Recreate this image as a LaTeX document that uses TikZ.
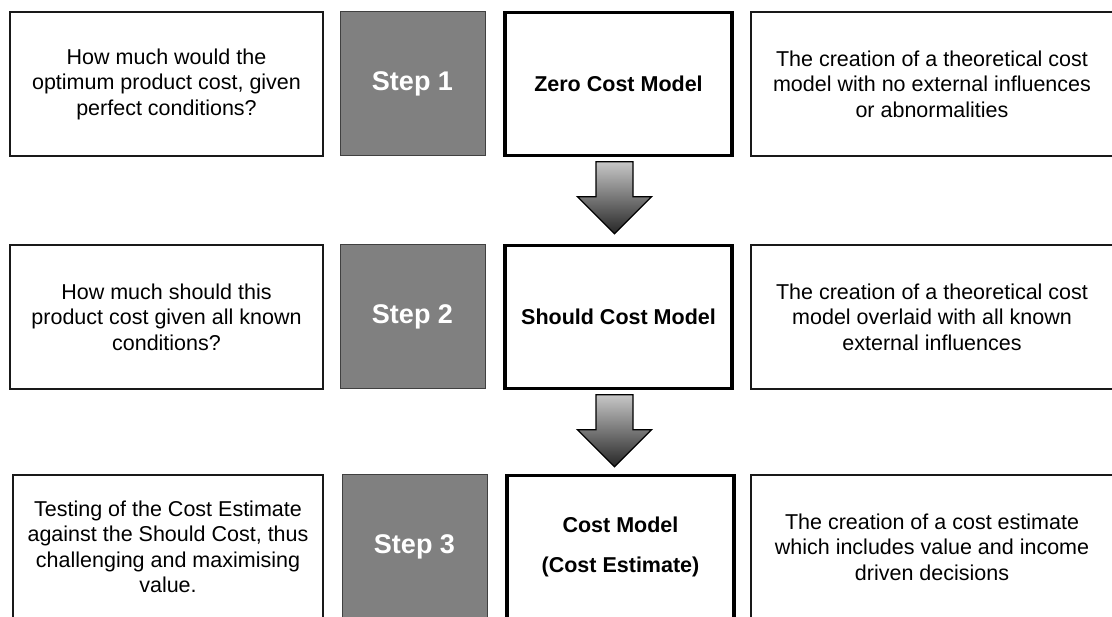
\documentclass[tikz,border=0pt]{standalone}
\usepackage{fontspec}
\setmainfont{Liberation Sans}
\usetikzlibrary{calc}
\begin{document}
\begin{tikzpicture}[x=1pt,y=-1pt,
  txt/.style={draw=black!90, line width=1.2pt, fill=white, align=center,
    font=\fontsize{21.5}{25.5}\selectfont, inner sep=0pt},
  stepbox/.style={draw=black!75, line width=1pt, fill=black!50, text=white,
    font=\fontsize{27}{32}\selectfont\bfseries, inner sep=0pt,
    minimum width=145pt, minimum height=144pt},
  model/.style={draw=black, line width=3.5pt, fill=white, align=center,
    font=\fontsize{21.5}{26}\selectfont\bfseries, inner sep=0pt,
    minimum width=227pt, minimum height=143pt},
  leftbox/.style={txt, minimum width=313pt, minimum height=144pt},
  rightbox/.style={txt, minimum width=362pt, minimum height=144pt},
  blockarrow/.style={draw=black, line width=1.3pt, line join=miter,
    top color=black!22, bottom color=black!85}]

\useasboundingbox (0,0) rectangle (1112,617);

% Row 1
\node[leftbox] (l1) at (166.5,84) {How much would the\\optimum product cost, given\\perfect conditions?};
\node[stepbox] (s1) at (412.5,84) {Step 1};
\node[model] (c1) at (618.5,84) {Zero Cost Model};
\node[rightbox] (r1) at (932,84) {The creation of a theoretical cost\\model with no external influences\\or abnormalities};

% Row 2
\node[leftbox] (l2) at (166.5,317) {How much should this\\product cost given all known\\conditions?};
\node[stepbox] (s2) at (412.5,317) {Step 2};
\node[model] (c2) at (618.5,317) {Should Cost Model};
\node[rightbox] (r2) at (932,317) {The creation of a theoretical cost\\model overlaid with all known\\external influences};

% Row 3
\node[txt, minimum width=310pt, minimum height=144pt] (l3) at (168,547) {Testing of the Cost Estimate\\against the Should Cost, thus\\challenging and maximising\\value.};
\node[stepbox] (s3) at (414.5,547) {Step 3};
\node[model] (c3) at (620.5,547) {Cost Model\\[14pt](Cost Estimate)};
\node[rightbox] (r3) at (932,547) {The creation of a cost estimate\\which includes value and income\\driven decisions};

% Block arrows
\shadedraw[blockarrow] ($(c1.south)+(-22.5,4.5)$) -- ++(37,0) -- ++(0,35) -- ++(18.5,0)
  -- ++(-37,37) -- ++(-37,-37) -- ++(18.5,0) -- cycle;
\shadedraw[blockarrow] ($(c2.south)+(-22.5,4.5)$) -- ++(37,0) -- ++(0,35) -- ++(18.5,0)
  -- ++(-37,37) -- ++(-37,-37) -- ++(18.5,0) -- cycle;

\end{tikzpicture}
\end{document}
